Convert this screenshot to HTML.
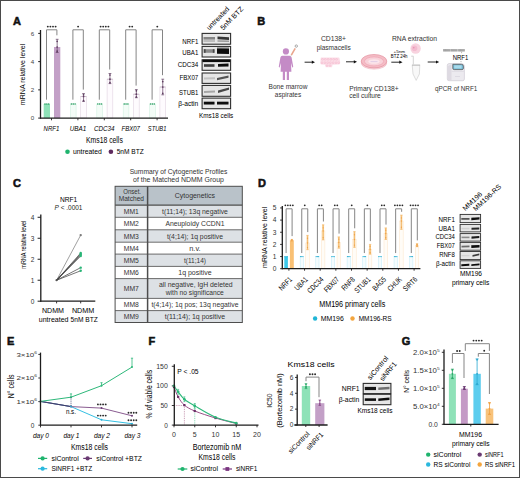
<!DOCTYPE html>
<html><head><meta charset="utf-8"><style>
html,body{margin:0;padding:0;background:#fff;width:520px;height:478px;overflow:hidden}
svg{display:block}
text{font-family:"Liberation Sans",sans-serif}
</style></head><body>
<svg width="520" height="478" viewBox="0 0 520 478">
<rect x="0.50" y="0.50" width="519.00" height="477.00" fill="none" stroke="#4a4a4a" stroke-width="1" />
<text x="13.00" y="25.00" font-size="11" fill="#111" font-weight="bold" stroke="#111" stroke-width="0.55">A</text>
<line x1="40.50" y1="30.00" x2="40.50" y2="118.60" stroke="#1c1c1c" stroke-width="1.3" />
<line x1="38.20" y1="118.10" x2="40.50" y2="118.10" stroke="#231f20" stroke-width="1" />
<text x="34.30" y="120.30" font-size="6.2" text-anchor="end" fill="#444" >0</text>
<line x1="38.20" y1="89.86" x2="40.50" y2="89.86" stroke="#231f20" stroke-width="1" />
<text x="34.30" y="92.06" font-size="6.2" text-anchor="end" fill="#444" >2</text>
<line x1="38.20" y1="61.62" x2="40.50" y2="61.62" stroke="#231f20" stroke-width="1" />
<text x="34.30" y="63.82" font-size="6.2" text-anchor="end" fill="#444" >4</text>
<line x1="38.20" y1="33.38" x2="40.50" y2="33.38" stroke="#231f20" stroke-width="1" />
<text x="34.30" y="35.58" font-size="6.2" text-anchor="end" fill="#444" >6</text>
<text x="25.40" y="74.40" font-size="7.1" text-anchor="middle" textLength="61.50" lengthAdjust="spacingAndGlyphs" transform="rotate(-90 25.40 74.40)" >mRNA relative level</text>
<rect x="43.70" y="103.98" width="6.30" height="14.12" fill="#8fe2b8" stroke="none" stroke-width="1" />
<rect x="54.00" y="47.00" width="6.30" height="71.10" fill="#c3a0c7" stroke="none" stroke-width="1" />
<circle cx="45.00" cy="103.98" r="0.8" fill="#2a9d62" />
<circle cx="46.85" cy="103.98" r="0.8" fill="#2a9d62" />
<circle cx="48.70" cy="103.98" r="0.8" fill="#2a9d62" />
<line x1="57.15" y1="39.30" x2="57.15" y2="52.50" stroke="#5e3d60" stroke-width="0.7" />
<line x1="55.75" y1="39.30" x2="58.55" y2="39.30" stroke="#5e3d60" stroke-width="0.7" />
<line x1="55.75" y1="52.50" x2="58.55" y2="52.50" stroke="#5e3d60" stroke-width="0.7" />
<circle cx="57.15" cy="41.28" r="0.85" fill="#5e3d60" />
<circle cx="57.15" cy="47.00" r="0.85" fill="#5e3d60" />
<circle cx="57.15" cy="51.18" r="0.85" fill="#5e3d60" />
<path d="M46.50 99.68 V29.8 H56.90 V35.30" fill="none" stroke="#858585" stroke-width="1.0" />
<circle cx="47.80" cy="26.60" r="0.95" fill="#2a2a2a" />
<circle cx="50.40" cy="26.60" r="0.95" fill="#2a2a2a" />
<circle cx="53.00" cy="26.60" r="0.95" fill="#2a2a2a" />
<circle cx="55.60" cy="26.60" r="0.95" fill="#2a2a2a" />
<line x1="51.50" y1="118.10" x2="51.50" y2="120.30" stroke="#231f20" stroke-width="0.9" />
<text x="51.50" y="130.90" font-size="7.6" text-anchor="middle" font-style="italic" textLength="15.80" lengthAdjust="spacingAndGlyphs" >NRF1</text>
<rect x="70.40" y="103.98" width="5.70" height="14.12" fill="#f3fcf7" stroke="#d2f1e1" stroke-width="0.6" />
<rect x="80.70" y="96.50" width="5.70" height="21.60" fill="#fefbfe" stroke="#e2d4e2" stroke-width="0.6" />
<line x1="80.70" y1="96.50" x2="86.40" y2="96.50" stroke="#b9a6b9" stroke-width="0.6" />
<circle cx="71.40" cy="103.98" r="0.8" fill="#2a9d62" />
<circle cx="73.25" cy="103.98" r="0.8" fill="#2a9d62" />
<circle cx="75.10" cy="103.98" r="0.8" fill="#2a9d62" />
<line x1="83.55" y1="93.60" x2="83.55" y2="101.40" stroke="#5e3d60" stroke-width="0.7" />
<line x1="82.15" y1="93.60" x2="84.95" y2="93.60" stroke="#5e3d60" stroke-width="0.7" />
<line x1="82.15" y1="101.40" x2="84.95" y2="101.40" stroke="#5e3d60" stroke-width="0.7" />
<circle cx="83.55" cy="94.77" r="0.85" fill="#5e3d60" />
<circle cx="83.55" cy="96.50" r="0.85" fill="#5e3d60" />
<circle cx="83.55" cy="100.62" r="0.85" fill="#5e3d60" />
<path d="M72.90 99.68 V29.8 H83.30 V89.60" fill="none" stroke="#858585" stroke-width="1.0" />
<circle cx="78.10" cy="26.60" r="0.95" fill="#2a2a2a" />
<line x1="77.90" y1="118.10" x2="77.90" y2="120.30" stroke="#231f20" stroke-width="0.9" />
<text x="77.90" y="130.90" font-size="7.6" text-anchor="middle" font-style="italic" textLength="16.50" lengthAdjust="spacingAndGlyphs" >UBA1</text>
<rect x="96.80" y="103.98" width="5.70" height="14.12" fill="#f3fcf7" stroke="#d2f1e1" stroke-width="0.6" />
<rect x="107.10" y="79.20" width="5.70" height="38.90" fill="#fefbfe" stroke="#e2d4e2" stroke-width="0.6" />
<line x1="107.10" y1="79.20" x2="112.80" y2="79.20" stroke="#b9a6b9" stroke-width="0.6" />
<circle cx="97.80" cy="103.98" r="0.8" fill="#2a9d62" />
<circle cx="99.65" cy="103.98" r="0.8" fill="#2a9d62" />
<circle cx="101.50" cy="103.98" r="0.8" fill="#2a9d62" />
<line x1="109.95" y1="73.50" x2="109.95" y2="83.60" stroke="#5e3d60" stroke-width="0.7" />
<line x1="108.55" y1="73.50" x2="111.35" y2="73.50" stroke="#5e3d60" stroke-width="0.7" />
<line x1="108.55" y1="83.60" x2="111.35" y2="83.60" stroke="#5e3d60" stroke-width="0.7" />
<circle cx="109.95" cy="75.02" r="0.85" fill="#5e3d60" />
<circle cx="109.95" cy="79.20" r="0.85" fill="#5e3d60" />
<circle cx="109.95" cy="82.59" r="0.85" fill="#5e3d60" />
<path d="M99.30 99.68 V29.8 H109.70 V69.50" fill="none" stroke="#858585" stroke-width="1.0" />
<circle cx="100.60" cy="26.60" r="0.95" fill="#2a2a2a" />
<circle cx="103.20" cy="26.60" r="0.95" fill="#2a2a2a" />
<circle cx="105.80" cy="26.60" r="0.95" fill="#2a2a2a" />
<circle cx="108.40" cy="26.60" r="0.95" fill="#2a2a2a" />
<line x1="104.30" y1="118.10" x2="104.30" y2="120.30" stroke="#231f20" stroke-width="0.9" />
<text x="104.30" y="130.90" font-size="7.6" text-anchor="middle" font-style="italic" textLength="20.50" lengthAdjust="spacingAndGlyphs" >CDC34</text>
<rect x="123.20" y="103.98" width="5.70" height="14.12" fill="#f3fcf7" stroke="#d2f1e1" stroke-width="0.6" />
<rect x="133.50" y="94.20" width="5.70" height="23.90" fill="#fefbfe" stroke="#e2d4e2" stroke-width="0.6" />
<line x1="133.50" y1="94.20" x2="139.20" y2="94.20" stroke="#b9a6b9" stroke-width="0.6" />
<circle cx="124.20" cy="103.98" r="0.8" fill="#2a9d62" />
<circle cx="126.05" cy="103.98" r="0.8" fill="#2a9d62" />
<circle cx="127.90" cy="103.98" r="0.8" fill="#2a9d62" />
<line x1="136.35" y1="89.60" x2="136.35" y2="97.70" stroke="#5e3d60" stroke-width="0.7" />
<line x1="134.95" y1="89.60" x2="137.75" y2="89.60" stroke="#5e3d60" stroke-width="0.7" />
<line x1="134.95" y1="97.70" x2="137.75" y2="97.70" stroke="#5e3d60" stroke-width="0.7" />
<circle cx="136.35" cy="90.81" r="0.85" fill="#5e3d60" />
<circle cx="136.35" cy="94.20" r="0.85" fill="#5e3d60" />
<circle cx="136.35" cy="96.89" r="0.85" fill="#5e3d60" />
<path d="M125.70 99.68 V29.8 H136.10 V85.60" fill="none" stroke="#858585" stroke-width="1.0" />
<circle cx="129.60" cy="26.60" r="0.95" fill="#2a2a2a" />
<circle cx="132.20" cy="26.60" r="0.95" fill="#2a2a2a" />
<line x1="130.70" y1="118.10" x2="130.70" y2="120.30" stroke="#231f20" stroke-width="0.9" />
<text x="130.70" y="130.90" font-size="7.6" text-anchor="middle" font-style="italic" textLength="18.50" lengthAdjust="spacingAndGlyphs" >FBX07</text>
<rect x="149.60" y="103.98" width="5.70" height="14.12" fill="#f3fcf7" stroke="#d2f1e1" stroke-width="0.6" />
<rect x="159.90" y="87.00" width="5.70" height="31.10" fill="#fefbfe" stroke="#e2d4e2" stroke-width="0.6" />
<line x1="159.90" y1="87.00" x2="165.60" y2="87.00" stroke="#b9a6b9" stroke-width="0.6" />
<circle cx="150.60" cy="103.98" r="0.8" fill="#2a9d62" />
<circle cx="152.45" cy="103.98" r="0.8" fill="#2a9d62" />
<circle cx="154.30" cy="103.98" r="0.8" fill="#2a9d62" />
<line x1="162.75" y1="79.20" x2="162.75" y2="94.80" stroke="#5e3d60" stroke-width="0.7" />
<line x1="161.35" y1="79.20" x2="164.15" y2="79.20" stroke="#5e3d60" stroke-width="0.7" />
<line x1="161.35" y1="94.80" x2="164.15" y2="94.80" stroke="#5e3d60" stroke-width="0.7" />
<circle cx="162.75" cy="81.54" r="0.85" fill="#5e3d60" />
<circle cx="162.75" cy="87.00" r="0.85" fill="#5e3d60" />
<circle cx="162.75" cy="93.24" r="0.85" fill="#5e3d60" />
<path d="M152.10 99.68 V29.8 H162.50 V75.20" fill="none" stroke="#858585" stroke-width="1.0" />
<circle cx="157.30" cy="26.60" r="0.95" fill="#2a2a2a" />
<line x1="157.10" y1="118.10" x2="157.10" y2="120.30" stroke="#231f20" stroke-width="0.9" />
<text x="157.10" y="130.90" font-size="7.6" text-anchor="middle" font-style="italic" textLength="18.50" lengthAdjust="spacingAndGlyphs" >STUB1</text>
<line x1="40.00" y1="118.10" x2="168.00" y2="118.10" stroke="#1c1c1c" stroke-width="1.3" />
<text x="86.00" y="142.90" font-size="8.2" textLength="36.80" lengthAdjust="spacingAndGlyphs" >Kms18 cells</text>
<circle cx="67.50" cy="151.70" r="2.3" fill="#1fb46e" />
<text x="72.90" y="154.10" font-size="7" textLength="28.90" lengthAdjust="spacingAndGlyphs" >untreated</text>
<circle cx="110.90" cy="151.70" r="2.3" fill="#5e2a5e" />
<text x="116.70" y="154.10" font-size="7" textLength="27.10" lengthAdjust="spacingAndGlyphs" >5nM BTZ</text>
<defs><filter id="b3" x="-50%" y="-50%" width="200%" height="200%"><feGaussianBlur stdDeviation="0.3"/></filter><filter id="b4" x="-50%" y="-50%" width="200%" height="200%"><feGaussianBlur stdDeviation="0.4"/></filter><filter id="b5" x="-50%" y="-50%" width="200%" height="200%"><feGaussianBlur stdDeviation="0.5"/></filter><filter id="b6" x="-50%" y="-50%" width="200%" height="200%"><feGaussianBlur stdDeviation="0.6"/></filter><filter id="b8" x="-50%" y="-50%" width="200%" height="200%"><feGaussianBlur stdDeviation="0.8"/></filter><filter id="b10" x="-50%" y="-50%" width="200%" height="200%"><feGaussianBlur stdDeviation="1.0"/></filter><filter id="b15" x="-50%" y="-50%" width="200%" height="200%"><feGaussianBlur stdDeviation="1.5"/></filter></defs>
<rect x="202.10" y="33.40" width="28.50" height="10.80" fill="#e6e6e6" stroke="#2e2e2e" stroke-width="1.1" />
<path d="M203.50 37.00 L215.00 37.00 L215.00 39.60 L203.50 39.60 Z" fill="#858585" stroke="none" stroke-width="1" filter="url(#b6)"/>
<path d="M203.50 40.20 L215.00 40.20 L215.00 41.80 L203.50 41.80 Z" fill="#b3b3b3" stroke="none" stroke-width="1" filter="url(#b6)"/>
<path d="M217.50 36.50 L229.00 37.20 L229.00 40.00 L217.50 39.30 Z" fill="#363636" stroke="none" stroke-width="1" filter="url(#b6)"/>
<path d="M217.50 40.20 L229.00 40.40 L229.00 42.00 L217.50 41.80 Z" fill="#9a9a9a" stroke="none" stroke-width="1" filter="url(#b6)"/>
<rect x="202.10" y="46.40" width="28.50" height="10.60" fill="#e6e6e6" stroke="#2e2e2e" stroke-width="1.1" />
<path d="M203.80 49.20 L214.50 49.20 L214.50 52.80 L203.80 52.80 Z" fill="#8c8c8c" stroke="none" stroke-width="1" filter="url(#b6)"/>
<path d="M203.80 49.20 L205.60 49.20 L205.60 52.80 L203.80 52.80 Z" fill="#4a4a4a" stroke="none" stroke-width="1" filter="url(#b5)"/>
<path d="M212.80 49.20 L214.50 49.20 L214.50 52.80 L212.80 52.80 Z" fill="#4a4a4a" stroke="none" stroke-width="1" filter="url(#b5)"/>
<path d="M217.00 48.30 L229.00 48.50 L229.00 53.90 L217.00 53.70 Z" fill="#0a0a0a" stroke="none" stroke-width="1" filter="url(#b6)"/>
<path d="M217.00 47.50 L229.00 47.50 L229.00 48.50 L217.00 48.50 Z" fill="#666" stroke="none" stroke-width="1" filter="url(#b4)"/>
<rect x="202.10" y="59.80" width="28.50" height="10.50" fill="#e6e6e6" stroke="#2e2e2e" stroke-width="1.1" />
<path d="M202.50 59.70 L230.20 59.70 L230.20 62.10 L202.50 62.10 Z" fill="#0a0a0a" stroke="none" stroke-width="1" filter="url(#b3)"/>
<path d="M204.00 64.20 L214.50 64.20 L214.50 66.80 L204.00 66.80 Z" fill="#3d3d3d" stroke="none" stroke-width="1" filter="url(#b6)"/>
<path d="M218.00 63.90 L228.50 63.60 L228.50 66.40 L218.00 66.70 Z" fill="#0d0d0d" stroke="none" stroke-width="1" filter="url(#b6)"/>
<rect x="202.10" y="73.00" width="28.50" height="10.40" fill="#e6e6e6" stroke="#2e2e2e" stroke-width="1.1" />
<path d="M204.00 77.60 L215.00 77.30 L215.00 79.30 L204.00 79.60 Z" fill="#c2c2c2" stroke="none" stroke-width="1" filter="url(#b6)"/>
<path d="M217.00 78.10 L228.50 75.50 L228.50 77.70 L217.00 80.30 Z" fill="#555" stroke="none" stroke-width="1" filter="url(#b6)"/>
<rect x="202.10" y="85.40" width="28.50" height="10.90" fill="#e6e6e6" stroke="#2e2e2e" stroke-width="1.1" />
<path d="M204.00 91.00 L215.00 90.50 L215.00 92.50 L204.00 93.00 Z" fill="#a6a6a6" stroke="none" stroke-width="1" filter="url(#b6)"/>
<path d="M218.00 90.60 L229.00 87.40 L229.00 89.80 L218.00 93.00 Z" fill="#474747" stroke="none" stroke-width="1" filter="url(#b6)"/>
<rect x="202.10" y="98.10" width="28.50" height="10.60" fill="#e6e6e6" stroke="#2e2e2e" stroke-width="1.1" />
<path d="M203.80 101.70 L214.50 101.70 L214.50 104.50 L203.80 104.50 Z" fill="#0a0a0a" stroke="none" stroke-width="1" filter="url(#b6)"/>
<path d="M217.00 101.70 L228.50 101.70 L228.50 104.50 L217.00 104.50 Z" fill="#0a0a0a" stroke="none" stroke-width="1" filter="url(#b6)"/>
<text x="198.30" y="43.90" font-size="7" text-anchor="end" textLength="16.00" lengthAdjust="spacingAndGlyphs" >NRF1</text>
<text x="198.30" y="54.80" font-size="7" text-anchor="end" textLength="16.00" lengthAdjust="spacingAndGlyphs" >UBA1</text>
<text x="198.30" y="67.30" font-size="7" text-anchor="end" textLength="20.50" lengthAdjust="spacingAndGlyphs" >CDC34</text>
<text x="198.30" y="79.80" font-size="7" text-anchor="end" textLength="18.90" lengthAdjust="spacingAndGlyphs" >FBX07</text>
<text x="198.30" y="94.60" font-size="7" text-anchor="end" textLength="19.20" lengthAdjust="spacingAndGlyphs" >STUB1</text>
<text x="198.30" y="106.40" font-size="7" text-anchor="end" textLength="20.10" lengthAdjust="spacingAndGlyphs" >β-actin</text>
<text x="209.30" y="30.60" font-size="7" textLength="29.50" lengthAdjust="spacingAndGlyphs" transform="rotate(-46 209.30 30.60)" >untreated</text>
<text x="223.30" y="30.60" font-size="7" textLength="29.50" lengthAdjust="spacingAndGlyphs" transform="rotate(-46 223.30 30.60)" >5nM BTZ</text>
<text x="199.00" y="117.80" font-size="6.5" textLength="34.30" lengthAdjust="spacingAndGlyphs" >Kms18 cells</text>
<text x="257.20" y="24.70" font-size="11" fill="#111" font-weight="bold" stroke="#111" stroke-width="0.55">B</text>
<circle cx="285.90" cy="51.40" r="3.1" fill="#c48bc6" />
<path d="M282.3 55.8 L289.6 55.8 Q291.2 55.9 291.6 57.6 L293.2 66.6 Q293.2 67.6 292.3 67.4 L291 63 L291.4 71.8 L280.6 71.8 L281 63 L279.6 67.4 Q278.7 67.6 278.8 66.6 L280.4 57.6 Q280.8 55.9 282.3 55.8 Z" fill="#c48bc6" stroke="none" stroke-width="1" />
<rect x="282.80" y="71.00" width="2.20" height="9.00" fill="#c48bc6" stroke="none" stroke-width="1" />
<rect x="286.80" y="71.00" width="2.20" height="9.00" fill="#c48bc6" stroke="none" stroke-width="1" />
<line x1="291.30" y1="55.20" x2="295.20" y2="48.40" stroke="#e9a58c" stroke-width="1.6" />
<line x1="290.20" y1="57.00" x2="291.30" y2="55.20" stroke="#bbb" stroke-width="0.6" />
<circle cx="296.30" cy="46.10" r="1.2" fill="none" stroke="#888" stroke-width="0.7"/>
<line x1="304.60" y1="62.20" x2="312.50" y2="62.20" stroke="#111" stroke-width="0.9" />
<path d="M315 62.2 L311.8 60.6 L311.8 63.800000000000004 Z" fill="#111" stroke="none" stroke-width="1" />
<line x1="346.00" y1="61.80" x2="354.50" y2="61.80" stroke="#111" stroke-width="0.9" />
<path d="M357 61.8 L353.8 60.199999999999996 L353.8 63.4 Z" fill="#111" stroke="none" stroke-width="1" />
<line x1="391.30" y1="62.20" x2="400.00" y2="62.20" stroke="#111" stroke-width="0.9" />
<path d="M402.5 62.2 L399.3 60.6 L399.3 63.800000000000004 Z" fill="#111" stroke="none" stroke-width="1" />
<line x1="427.70" y1="62.00" x2="436.70" y2="62.00" stroke="#111" stroke-width="0.9" />
<path d="M439.2 62 L436.0 60.4 L436.0 63.6 Z" fill="#111" stroke="none" stroke-width="1" />
<text x="288.00" y="88.90" font-size="7" text-anchor="middle" fill="#333" textLength="38.90" lengthAdjust="spacingAndGlyphs" >Bone marrow</text>
<text x="288.00" y="96.60" font-size="7" text-anchor="middle" fill="#333" textLength="26.30" lengthAdjust="spacingAndGlyphs" >aspirates</text>
<text x="333.50" y="41.30" font-size="7" text-anchor="middle" fill="#333" textLength="25.10" lengthAdjust="spacingAndGlyphs" >CD138+</text>
<text x="333.70" y="49.60" font-size="7" text-anchor="middle" fill="#333" textLength="34.00" lengthAdjust="spacingAndGlyphs" >plasmacells</text>
<path d="M321 57.6 L338.6 57.6 Q339.6 57.6 339.6 59 L340.2 62 Q340.4 64.6 338.2 64.6 L332.6 64.8 L332 67.2 L325.6 67.2 L325.2 64.8 L321.4 64.6 Q320 64.4 320.3 62.4 L320.6 58.8 Q320.8 57.6 321 57.6 Z" fill="#fbdde7" stroke="none" stroke-width="1" />
<circle cx="322.50" cy="59.30" r="1.2" fill="#f7c4d5" />
<circle cx="322.50" cy="59.30" r="0.45" fill="#fce6ee" />
<circle cx="325.30" cy="59.30" r="1.2" fill="#f7c4d5" />
<circle cx="325.30" cy="59.30" r="0.45" fill="#fce6ee" />
<circle cx="328.10" cy="59.30" r="1.2" fill="#f7c4d5" />
<circle cx="328.10" cy="59.30" r="0.45" fill="#fce6ee" />
<circle cx="330.90" cy="59.30" r="1.2" fill="#f7c4d5" />
<circle cx="330.90" cy="59.30" r="0.45" fill="#fce6ee" />
<circle cx="333.70" cy="59.30" r="1.2" fill="#f7c4d5" />
<circle cx="333.70" cy="59.30" r="0.45" fill="#fce6ee" />
<circle cx="336.50" cy="59.30" r="1.2" fill="#f7c4d5" />
<circle cx="336.50" cy="59.30" r="0.45" fill="#fce6ee" />
<circle cx="322.00" cy="62.80" r="1.2" fill="#f7c4d5" />
<circle cx="322.00" cy="62.80" r="0.45" fill="#fce6ee" />
<circle cx="324.80" cy="62.80" r="1.2" fill="#f7c4d5" />
<circle cx="324.80" cy="62.80" r="0.45" fill="#fce6ee" />
<circle cx="327.60" cy="62.80" r="1.2" fill="#f7c4d5" />
<circle cx="327.60" cy="62.80" r="0.45" fill="#fce6ee" />
<circle cx="330.40" cy="62.80" r="1.2" fill="#f7c4d5" />
<circle cx="330.40" cy="62.80" r="0.45" fill="#fce6ee" />
<circle cx="333.20" cy="62.80" r="1.2" fill="#f7c4d5" />
<circle cx="333.20" cy="62.80" r="0.45" fill="#fce6ee" />
<circle cx="336.00" cy="62.80" r="1.2" fill="#f7c4d5" />
<circle cx="336.00" cy="62.80" r="0.45" fill="#fce6ee" />
<circle cx="338.60" cy="62.80" r="1.2" fill="#f7c4d5" />
<circle cx="338.60" cy="62.80" r="0.45" fill="#fce6ee" />
<circle cx="327.00" cy="65.60" r="1.2" fill="#f7c4d5" />
<circle cx="327.00" cy="65.60" r="0.45" fill="#fce6ee" />
<circle cx="330.00" cy="65.60" r="1.2" fill="#f7c4d5" />
<circle cx="330.00" cy="65.60" r="0.45" fill="#fce6ee" />
<ellipse cx="374" cy="63.0" rx="12.8" ry="6.2" fill="#f8d6dc" stroke="#ecb3bd" stroke-width="0.5"/>
<ellipse cx="374" cy="61.2" rx="12.8" ry="6.7" fill="#f4bdc6" stroke="#e4909f" stroke-width="0.7"/>
<ellipse cx="374" cy="61.4" rx="9.6" ry="4.5" fill="#f8d2d9" stroke="#ee9fb0" stroke-width="0.6"/>
<ellipse cx="374" cy="61.5" rx="5.6" ry="2.3" fill="#fbe6ec"/>
<line x1="370.50" y1="61.60" x2="377.50" y2="61.60" stroke="#c9b4e0" stroke-width="0.5" />
<text x="349.20" y="90.60" font-size="7" fill="#333" textLength="49.50" lengthAdjust="spacingAndGlyphs" >Primary CD138+</text>
<text x="349.20" y="97.90" font-size="7" fill="#333" textLength="31.60" lengthAdjust="spacingAndGlyphs" >cell culture</text>
<text x="391.90" y="41.30" font-size="7" fill="#333" textLength="45.20" lengthAdjust="spacingAndGlyphs" >RNA extraction</text>
<text x="399.20" y="52.50" font-size="4.3" text-anchor="middle" textLength="11.40" lengthAdjust="spacingAndGlyphs" >+5nm</text>
<text x="399.20" y="57.60" font-size="4.6" text-anchor="middle" textLength="16.70" lengthAdjust="spacingAndGlyphs" >BTZ 24h</text>
<circle cx="415.60" cy="48.50" r="5.2" fill="#f8d3df" />
<circle cx="414.50" cy="48.20" r="2.8" fill="#f3bcd0" />
<circle cx="413.80" cy="47.80" r="0.8" fill="#e58fb0" />
<path d="M412.2 64.8 L419.8 64.8 L419.4 74 L416.2 80.4 L413 74 Z" fill="#f8f8f8" stroke="#c8c8c8" stroke-width="0.6" />
<line x1="412.00" y1="65.30" x2="420.00" y2="65.30" stroke="#bbb" stroke-width="0.8" />
<path d="M411.2 56.2 L413.3 56.2 L413.3 64.5" fill="none" stroke="#c8c8c8" stroke-width="0.8" />
<line x1="443.60" y1="49.00" x2="443.60" y2="51.60" stroke="#6a6a6a" stroke-width="0.55" />
<line x1="444.55" y1="49.00" x2="444.55" y2="51.60" stroke="#6a6a6a" stroke-width="0.55" />
<line x1="445.50" y1="49.00" x2="445.50" y2="51.60" stroke="#6a6a6a" stroke-width="0.55" />
<line x1="446.45" y1="49.00" x2="446.45" y2="51.60" stroke="#6a6a6a" stroke-width="0.55" />
<line x1="447.40" y1="49.00" x2="447.40" y2="51.60" stroke="#6a6a6a" stroke-width="0.55" />
<line x1="448.35" y1="49.00" x2="448.35" y2="51.60" stroke="#6a6a6a" stroke-width="0.55" />
<line x1="449.30" y1="49.00" x2="449.30" y2="51.60" stroke="#6a6a6a" stroke-width="0.55" />
<line x1="450.25" y1="49.00" x2="450.25" y2="51.60" stroke="#6a6a6a" stroke-width="0.55" />
<line x1="443.30" y1="50.30" x2="450.20" y2="50.30" stroke="#999" stroke-width="0.5" />
<line x1="451.50" y1="49.00" x2="451.50" y2="51.60" stroke="#6a6a6a" stroke-width="0.55" />
<line x1="452.45" y1="49.00" x2="452.45" y2="51.60" stroke="#6a6a6a" stroke-width="0.55" />
<line x1="453.40" y1="49.00" x2="453.40" y2="51.60" stroke="#6a6a6a" stroke-width="0.55" />
<line x1="454.35" y1="49.00" x2="454.35" y2="51.60" stroke="#6a6a6a" stroke-width="0.55" />
<line x1="455.30" y1="49.00" x2="455.30" y2="51.60" stroke="#6a6a6a" stroke-width="0.55" />
<line x1="456.25" y1="49.00" x2="456.25" y2="51.60" stroke="#6a6a6a" stroke-width="0.55" />
<line x1="457.20" y1="49.00" x2="457.20" y2="51.60" stroke="#6a6a6a" stroke-width="0.55" />
<line x1="451.20" y1="50.30" x2="457.30" y2="50.30" stroke="#999" stroke-width="0.5" />
<line x1="458.60" y1="49.00" x2="458.60" y2="51.60" stroke="#6a6a6a" stroke-width="0.55" />
<line x1="459.55" y1="49.00" x2="459.55" y2="51.60" stroke="#6a6a6a" stroke-width="0.55" />
<line x1="460.50" y1="49.00" x2="460.50" y2="51.60" stroke="#6a6a6a" stroke-width="0.55" />
<line x1="461.45" y1="49.00" x2="461.45" y2="51.60" stroke="#6a6a6a" stroke-width="0.55" />
<line x1="462.40" y1="49.00" x2="462.40" y2="51.60" stroke="#6a6a6a" stroke-width="0.55" />
<line x1="463.35" y1="49.00" x2="463.35" y2="51.60" stroke="#6a6a6a" stroke-width="0.55" />
<line x1="464.30" y1="49.00" x2="464.30" y2="51.60" stroke="#6a6a6a" stroke-width="0.55" />
<line x1="458.30" y1="50.30" x2="464.80" y2="50.30" stroke="#999" stroke-width="0.5" />
<line x1="461.60" y1="51.80" x2="461.60" y2="53.20" stroke="#777" stroke-width="0.5" />
<text x="452.80" y="60.10" font-size="6.6" textLength="15.50" lengthAdjust="spacingAndGlyphs" >NRF1</text>
<line x1="461.00" y1="61.00" x2="461.00" y2="62.20" stroke="#777" stroke-width="0.5" />
<path d="M449 63.6 Q447.3 63.6 447.3 65.4 L447.3 79.0 Q447.3 80.7 449 80.7 L462.8 80.7 Q464.4 80.7 464.4 79.0 L464.4 66.5 Q464.4 63.6 461.6 63.6 Z" fill="#eceaef" stroke="#c9c4cf" stroke-width="0.6" />
<path d="M447.8 66 L451.5 64.2 L451.5 80.3 L447.8 80.3 Z" fill="#dedae2" stroke="none" stroke-width="1" />
<path d="M452.8 64.3 L461.4 64.3 Q463.4 64.3 463.4 66.2 L463.4 68.2 Q463.4 69.6 462 69.6 L454.2 69.6 Q452.8 69.6 452.8 68.2 Z" fill="#79bcd6" stroke="#4a4a4a" stroke-width="0.7" />
<path d="M454.2 65.4 L461.6 65.4 L461.6 68.4 L454.2 68.4 Z" fill="#a9dbec" stroke="none" stroke-width="1" />
<line x1="451.80" y1="71.50" x2="464.00" y2="71.50" stroke="#d6d2da" stroke-width="0.5" />
<line x1="455.00" y1="76.50" x2="460.00" y2="76.50" stroke="#cfcbd4" stroke-width="0.5" />
<text x="435.00" y="91.20" font-size="7" fill="#333" textLength="42.30" lengthAdjust="spacingAndGlyphs" >qPCR of NRF1</text>
<text x="13.00" y="186.80" font-size="11" fill="#111" font-weight="bold" stroke="#111" stroke-width="0.55">C</text>
<text x="68.60" y="201.90" font-size="6.6" text-anchor="middle" textLength="17.30" lengthAdjust="spacingAndGlyphs" >NRF1</text>
<text x="68.5" y="210.1" font-size="6.6" text-anchor="middle" textLength="27.9" lengthAdjust="spacingAndGlyphs" fill="#231f20"><tspan font-style="italic">P</tspan> &lt; .0001</text>
<line x1="40.80" y1="214.40" x2="40.80" y2="301.80" stroke="#1c1c1c" stroke-width="1.3" />
<line x1="37.60" y1="301.20" x2="40.80" y2="301.20" stroke="#1c1c1c" stroke-width="1.0" />
<text x="34.30" y="303.50" font-size="6.5" text-anchor="end" fill="#333" >0</text>
<line x1="37.60" y1="280.22" x2="40.80" y2="280.22" stroke="#1c1c1c" stroke-width="1.0" />
<text x="34.30" y="282.52" font-size="6.5" text-anchor="end" fill="#333" >1</text>
<line x1="37.60" y1="259.24" x2="40.80" y2="259.24" stroke="#1c1c1c" stroke-width="1.0" />
<text x="34.30" y="261.54" font-size="6.5" text-anchor="end" fill="#333" >2</text>
<line x1="37.60" y1="238.26" x2="40.80" y2="238.26" stroke="#1c1c1c" stroke-width="1.0" />
<text x="34.30" y="240.56" font-size="6.5" text-anchor="end" fill="#333" >3</text>
<line x1="37.60" y1="217.28" x2="40.80" y2="217.28" stroke="#1c1c1c" stroke-width="1.0" />
<text x="34.30" y="219.58" font-size="6.5" text-anchor="end" fill="#333" >4</text>
<text x="25.90" y="244.70" font-size="7.3" text-anchor="middle" textLength="48.00" lengthAdjust="spacingAndGlyphs" transform="rotate(-90 25.90 244.70)" >mRNA relative level</text>
<line x1="40.20" y1="301.20" x2="95.30" y2="301.20" stroke="#1c1c1c" stroke-width="1.3" />
<line x1="56.60" y1="301.20" x2="56.60" y2="303.40" stroke="#231f20" stroke-width="0.9" />
<line x1="80.70" y1="301.20" x2="80.70" y2="303.40" stroke="#231f20" stroke-width="0.9" />
<line x1="56.60" y1="280.22" x2="80.70" y2="235.11" stroke="#777" stroke-width="0.7" />
<line x1="56.60" y1="280.22" x2="80.70" y2="252.95" stroke="#3a3a3a" stroke-width="0.7" />
<line x1="56.60" y1="280.22" x2="80.70" y2="254.00" stroke="#3a3a3a" stroke-width="0.7" />
<line x1="56.60" y1="280.22" x2="80.70" y2="255.04" stroke="#3a3a3a" stroke-width="0.7" />
<line x1="56.60" y1="280.22" x2="80.70" y2="256.09" stroke="#3a3a3a" stroke-width="0.7" />
<line x1="56.60" y1="280.22" x2="80.70" y2="267.63" stroke="#3a3a3a" stroke-width="0.7" />
<line x1="56.60" y1="280.22" x2="80.70" y2="270.78" stroke="#3a3a3a" stroke-width="0.7" />
<circle cx="80.70" cy="235.11" r="1.2" fill="#7a7a7a" />
<circle cx="80.70" cy="252.95" r="1.2" fill="#29b577" />
<circle cx="80.70" cy="254.00" r="1.2" fill="#29b577" />
<circle cx="80.70" cy="255.04" r="1.2" fill="#29b577" />
<circle cx="80.70" cy="256.09" r="1.2" fill="#29b577" />
<circle cx="80.70" cy="267.63" r="1.2" fill="#29b577" />
<circle cx="80.70" cy="270.78" r="1.2" fill="#29b577" />
<circle cx="56.60" cy="280.22" r="1.1" fill="#555" />
<text x="53.00" y="313.20" font-size="6.8" text-anchor="middle" textLength="22.00" lengthAdjust="spacingAndGlyphs" >NDMM</text>
<text x="53.65" y="321.60" font-size="6.8" text-anchor="middle" textLength="29.70" lengthAdjust="spacingAndGlyphs" >untreated</text>
<text x="83.10" y="313.20" font-size="6.8" text-anchor="middle" textLength="22.40" lengthAdjust="spacingAndGlyphs" >NDMM</text>
<text x="84.20" y="321.60" font-size="6.8" text-anchor="middle" textLength="27.20" lengthAdjust="spacingAndGlyphs" >5nM BTZ</text>
<text x="178.50" y="174.40" font-size="6.8" text-anchor="middle" fill="#333" textLength="97.70" lengthAdjust="spacingAndGlyphs" >Summary of Cytogenetic Profiles</text>
<text x="178.50" y="182.10" font-size="6.8" text-anchor="middle" fill="#333" textLength="90.80" lengthAdjust="spacingAndGlyphs" >of the Matched NDMM Group</text>
<rect x="115.10" y="186.30" width="127.20" height="18.90" fill="#b9c2c9" stroke="none" stroke-width="1" />
<rect x="115.10" y="205.20" width="127.20" height="12.10" fill="#dde1e5" stroke="none" stroke-width="1" />
<rect x="115.10" y="217.30" width="127.20" height="12.50" fill="#ffffff" stroke="none" stroke-width="1" />
<rect x="115.10" y="229.80" width="127.20" height="12.40" fill="#dde1e5" stroke="none" stroke-width="1" />
<rect x="115.10" y="242.20" width="127.20" height="11.90" fill="#ffffff" stroke="none" stroke-width="1" />
<rect x="115.10" y="254.10" width="127.20" height="12.30" fill="#dde1e5" stroke="none" stroke-width="1" />
<rect x="115.10" y="266.40" width="127.20" height="12.20" fill="#ffffff" stroke="none" stroke-width="1" />
<rect x="115.10" y="278.60" width="127.20" height="19.80" fill="#dde1e5" stroke="none" stroke-width="1" />
<rect x="115.10" y="298.40" width="127.20" height="12.20" fill="#ffffff" stroke="none" stroke-width="1" />
<rect x="115.10" y="310.60" width="127.20" height="11.90" fill="#dde1e5" stroke="none" stroke-width="1" />
<line x1="115.10" y1="205.20" x2="242.30" y2="205.20" stroke="#4d4d4d" stroke-width="1.3" />
<line x1="115.10" y1="217.30" x2="242.30" y2="217.30" stroke="#5a5a5a" stroke-width="0.9" />
<line x1="115.10" y1="229.80" x2="242.30" y2="229.80" stroke="#5a5a5a" stroke-width="0.9" />
<line x1="115.10" y1="242.20" x2="242.30" y2="242.20" stroke="#5a5a5a" stroke-width="0.9" />
<line x1="115.10" y1="254.10" x2="242.30" y2="254.10" stroke="#5a5a5a" stroke-width="0.9" />
<line x1="115.10" y1="266.40" x2="242.30" y2="266.40" stroke="#5a5a5a" stroke-width="0.9" />
<line x1="115.10" y1="278.60" x2="242.30" y2="278.60" stroke="#5a5a5a" stroke-width="0.9" />
<line x1="115.10" y1="298.40" x2="242.30" y2="298.40" stroke="#5a5a5a" stroke-width="0.9" />
<line x1="115.10" y1="310.60" x2="242.30" y2="310.60" stroke="#5a5a5a" stroke-width="0.9" />
<line x1="147.60" y1="186.30" x2="147.60" y2="322.50" stroke="#4d4d4d" stroke-width="1.5" />
<rect x="115.10" y="186.30" width="127.20" height="136.20" fill="none" stroke="#4d4d4d" stroke-width="1.0" />
<text x="132.15" y="193.80" font-size="6.4" text-anchor="middle" fill="#333" textLength="17.70" lengthAdjust="spacingAndGlyphs" >Onset.</text>
<text x="131.35" y="201.40" font-size="6.4" text-anchor="middle" fill="#333" textLength="25.40" lengthAdjust="spacingAndGlyphs" >Matched</text>
<text x="194.95" y="198.20" font-size="6.9" text-anchor="middle" fill="#333" textLength="40.20" lengthAdjust="spacingAndGlyphs" >Cytogenetics</text>
<text x="131.35" y="214.15" font-size="6.9" text-anchor="middle" fill="#333" textLength="15.00" lengthAdjust="spacingAndGlyphs" >MM1</text>
<text x="194.95" y="214.15" font-size="6.9" text-anchor="middle" fill="#333" textLength="65.80" lengthAdjust="spacingAndGlyphs" >t(11;14); 13q negative</text>
<text x="131.35" y="226.45" font-size="6.9" text-anchor="middle" fill="#333" textLength="15.00" lengthAdjust="spacingAndGlyphs" >MM2</text>
<text x="194.95" y="226.45" font-size="6.9" text-anchor="middle" fill="#333" textLength="59.00" lengthAdjust="spacingAndGlyphs" >Aneuploidy CCDN1</text>
<text x="131.35" y="238.90" font-size="6.9" text-anchor="middle" fill="#333" textLength="15.00" lengthAdjust="spacingAndGlyphs" >MM3</text>
<text x="194.95" y="238.90" font-size="6.9" text-anchor="middle" fill="#333" textLength="56.00" lengthAdjust="spacingAndGlyphs" >t(4;14); 1q positive</text>
<text x="131.35" y="251.05" font-size="6.9" text-anchor="middle" fill="#333" textLength="15.00" lengthAdjust="spacingAndGlyphs" >MM4</text>
<text x="194.95" y="251.05" font-size="6.9" text-anchor="middle" fill="#333" textLength="11.40" lengthAdjust="spacingAndGlyphs" >n.v.</text>
<text x="131.35" y="263.15" font-size="6.9" text-anchor="middle" fill="#333" textLength="15.00" lengthAdjust="spacingAndGlyphs" >MM5</text>
<text x="194.95" y="263.15" font-size="6.9" text-anchor="middle" fill="#333" textLength="22.00" lengthAdjust="spacingAndGlyphs" >t(11;14)</text>
<text x="131.35" y="275.40" font-size="6.9" text-anchor="middle" fill="#333" textLength="15.00" lengthAdjust="spacingAndGlyphs" >MM6</text>
<text x="194.95" y="275.40" font-size="6.9" text-anchor="middle" fill="#333" textLength="33.40" lengthAdjust="spacingAndGlyphs" >1q positive</text>
<text x="131.35" y="291.40" font-size="6.9" text-anchor="middle" fill="#333" textLength="15.00" lengthAdjust="spacingAndGlyphs" >MM7</text>
<text x="195.75" y="286.90" font-size="6.9" text-anchor="middle" fill="#333" textLength="73.60" lengthAdjust="spacingAndGlyphs" >all negative, IgH deleted</text>
<text x="194.75" y="294.50" font-size="6.9" text-anchor="middle" fill="#333" textLength="58.00" lengthAdjust="spacingAndGlyphs" >with no significance</text>
<text x="131.35" y="307.40" font-size="6.9" text-anchor="middle" fill="#333" textLength="15.00" lengthAdjust="spacingAndGlyphs" >MM8</text>
<text x="194.95" y="307.40" font-size="6.9" text-anchor="middle" fill="#333" textLength="87.00" lengthAdjust="spacingAndGlyphs" >t(4;14); 1q pos; 13q negative</text>
<text x="131.35" y="319.45" font-size="6.9" text-anchor="middle" fill="#333" textLength="15.00" lengthAdjust="spacingAndGlyphs" >MM9</text>
<text x="194.95" y="319.45" font-size="6.9" text-anchor="middle" fill="#333" textLength="60.40" lengthAdjust="spacingAndGlyphs" >t(11;14); 1q positive</text>
<text x="258.00" y="187.20" font-size="11" fill="#111" font-weight="bold" stroke="#111" stroke-width="0.55">D</text>
<line x1="282.30" y1="206.00" x2="282.30" y2="269.20" stroke="#1c1c1c" stroke-width="1.3" />
<line x1="280.10" y1="268.70" x2="282.30" y2="268.70" stroke="#231f20" stroke-width="0.9" />
<text x="276.40" y="271.00" font-size="6.6" text-anchor="end" fill="#333" >0</text>
<line x1="280.10" y1="256.55" x2="282.30" y2="256.55" stroke="#231f20" stroke-width="0.9" />
<text x="276.40" y="258.85" font-size="6.6" text-anchor="end" fill="#333" >1</text>
<line x1="280.10" y1="244.40" x2="282.30" y2="244.40" stroke="#231f20" stroke-width="0.9" />
<text x="276.40" y="246.70" font-size="6.6" text-anchor="end" fill="#333" >2</text>
<line x1="280.10" y1="232.25" x2="282.30" y2="232.25" stroke="#231f20" stroke-width="0.9" />
<text x="276.40" y="234.55" font-size="6.6" text-anchor="end" fill="#333" >3</text>
<line x1="280.10" y1="220.10" x2="282.30" y2="220.10" stroke="#231f20" stroke-width="0.9" />
<text x="276.40" y="222.40" font-size="6.6" text-anchor="end" fill="#333" >4</text>
<line x1="280.10" y1="207.95" x2="282.30" y2="207.95" stroke="#231f20" stroke-width="0.9" />
<text x="276.40" y="210.25" font-size="6.6" text-anchor="end" fill="#333" >5</text>
<text x="267.20" y="237.30" font-size="7.6" text-anchor="middle" textLength="61.20" lengthAdjust="spacingAndGlyphs" transform="rotate(-90 267.20 237.30)" >mRNA relative level</text>
<rect x="284.30" y="256.55" width="3.60" height="12.15" fill="#3cc8ea" stroke="none" stroke-width="1" />
<rect x="289.90" y="240.20" width="3.90" height="28.50" fill="#f9c074" stroke="none" stroke-width="1" />
<circle cx="284.90" cy="256.55" r="0.6" fill="#2aaed2" />
<circle cx="286.10" cy="256.55" r="0.6" fill="#2aaed2" />
<circle cx="287.30" cy="256.55" r="0.6" fill="#2aaed2" />
<line x1="291.85" y1="239.40" x2="291.85" y2="241.00" stroke="#f7cf92" stroke-width="1.8" />
<line x1="291.85" y1="239.40" x2="291.85" y2="241.00" stroke="#f2b25e" stroke-width="0.6" />
<line x1="290.65" y1="239.40" x2="293.05" y2="239.40" stroke="#f2b25e" stroke-width="0.6" />
<line x1="290.65" y1="241.00" x2="293.05" y2="241.00" stroke="#f2b25e" stroke-width="0.6" />
<circle cx="291.85" cy="239.72" r="0.65" fill="#eea04a" />
<circle cx="291.85" cy="240.20" r="0.65" fill="#eea04a" />
<circle cx="291.85" cy="240.76" r="0.65" fill="#eea04a" />
<path d="M286.10 253.05 V208.8 H292.10 V236.10" fill="none" stroke="#858585" stroke-width="1.0" />
<circle cx="285.35" cy="205.30" r="0.9" fill="#2a2a2a" />
<circle cx="287.85" cy="205.30" r="0.9" fill="#2a2a2a" />
<circle cx="290.35" cy="205.30" r="0.9" fill="#2a2a2a" />
<circle cx="292.85" cy="205.30" r="0.9" fill="#2a2a2a" />
<line x1="288.90" y1="268.70" x2="288.90" y2="270.70" stroke="#231f20" stroke-width="0.9" />
<text x="292.70" y="280.00" font-size="7.6" text-anchor="end" textLength="15.39" lengthAdjust="spacingAndGlyphs" transform="rotate(-45 292.70 280.00)" >NRF1</text>
<rect x="300.15" y="256.55" width="3.20" height="12.15" fill="#f4fcfe" stroke="#bfeaf6" stroke-width="0.5" />
<rect x="305.75" y="242.90" width="3.50" height="25.80" fill="#fffcf7" stroke="#fde4c6" stroke-width="0.5" />
<circle cx="300.55" cy="256.55" r="0.6" fill="#2aaed2" />
<circle cx="301.75" cy="256.55" r="0.6" fill="#2aaed2" />
<circle cx="302.95" cy="256.55" r="0.6" fill="#2aaed2" />
<line x1="307.50" y1="235.40" x2="307.50" y2="249.70" stroke="#f7cf92" stroke-width="1.8" />
<line x1="307.50" y1="235.40" x2="307.50" y2="249.70" stroke="#f2b25e" stroke-width="0.6" />
<line x1="306.30" y1="235.40" x2="308.70" y2="235.40" stroke="#f2b25e" stroke-width="0.6" />
<line x1="306.30" y1="249.70" x2="308.70" y2="249.70" stroke="#f2b25e" stroke-width="0.6" />
<circle cx="307.50" cy="238.26" r="0.65" fill="#eea04a" />
<circle cx="307.50" cy="242.90" r="0.65" fill="#eea04a" />
<circle cx="307.50" cy="247.55" r="0.65" fill="#eea04a" />
<path d="M301.75 253.05 V208.8 H307.75 V232.10" fill="none" stroke="#858585" stroke-width="1.0" />
<circle cx="304.75" cy="205.30" r="0.9" fill="#2a2a2a" />
<line x1="304.55" y1="268.70" x2="304.55" y2="270.70" stroke="#231f20" stroke-width="0.9" />
<text x="308.35" y="280.00" font-size="7.6" text-anchor="end" textLength="15.39" lengthAdjust="spacingAndGlyphs" transform="rotate(-45 308.35 280.00)" >UBA1</text>
<rect x="315.80" y="256.55" width="3.20" height="12.15" fill="#f4fcfe" stroke="#bfeaf6" stroke-width="0.5" />
<rect x="321.40" y="230.90" width="3.50" height="37.80" fill="#fffcf7" stroke="#fde4c6" stroke-width="0.5" />
<circle cx="316.20" cy="256.55" r="0.6" fill="#2aaed2" />
<circle cx="317.40" cy="256.55" r="0.6" fill="#2aaed2" />
<circle cx="318.60" cy="256.55" r="0.6" fill="#2aaed2" />
<line x1="323.15" y1="224.80" x2="323.15" y2="239.90" stroke="#f7cf92" stroke-width="1.8" />
<line x1="323.15" y1="224.80" x2="323.15" y2="239.90" stroke="#f2b25e" stroke-width="0.6" />
<line x1="321.95" y1="224.80" x2="324.35" y2="224.80" stroke="#f2b25e" stroke-width="0.6" />
<line x1="321.95" y1="239.90" x2="324.35" y2="239.90" stroke="#f2b25e" stroke-width="0.6" />
<circle cx="323.15" cy="227.82" r="0.65" fill="#eea04a" />
<circle cx="323.15" cy="230.90" r="0.65" fill="#eea04a" />
<circle cx="323.15" cy="237.64" r="0.65" fill="#eea04a" />
<path d="M317.40 253.05 V208.8 H323.40 V221.50" fill="none" stroke="#858585" stroke-width="1.0" />
<circle cx="319.15" cy="205.30" r="0.9" fill="#2a2a2a" />
<circle cx="321.65" cy="205.30" r="0.9" fill="#2a2a2a" />
<line x1="320.20" y1="268.70" x2="320.20" y2="270.70" stroke="#231f20" stroke-width="0.9" />
<text x="324.00" y="280.00" font-size="7.6" text-anchor="end" textLength="19.31" lengthAdjust="spacingAndGlyphs" transform="rotate(-45 324.00 280.00)" >CDC34</text>
<rect x="331.45" y="256.55" width="3.20" height="12.15" fill="#f4fcfe" stroke="#bfeaf6" stroke-width="0.5" />
<rect x="337.05" y="242.50" width="3.50" height="26.20" fill="#fffcf7" stroke="#fde4c6" stroke-width="0.5" />
<circle cx="331.85" cy="256.55" r="0.6" fill="#2aaed2" />
<circle cx="333.05" cy="256.55" r="0.6" fill="#2aaed2" />
<circle cx="334.25" cy="256.55" r="0.6" fill="#2aaed2" />
<line x1="338.80" y1="236.90" x2="338.80" y2="248.20" stroke="#f7cf92" stroke-width="1.8" />
<line x1="338.80" y1="236.90" x2="338.80" y2="248.20" stroke="#f2b25e" stroke-width="0.6" />
<line x1="337.60" y1="236.90" x2="340.00" y2="236.90" stroke="#f2b25e" stroke-width="0.6" />
<line x1="337.60" y1="248.20" x2="340.00" y2="248.20" stroke="#f2b25e" stroke-width="0.6" />
<circle cx="338.80" cy="239.16" r="0.65" fill="#eea04a" />
<circle cx="338.80" cy="242.50" r="0.65" fill="#eea04a" />
<circle cx="338.80" cy="246.50" r="0.65" fill="#eea04a" />
<path d="M333.05 253.05 V208.8 H339.05 V233.60" fill="none" stroke="#858585" stroke-width="1.0" />
<circle cx="334.80" cy="205.30" r="0.9" fill="#2a2a2a" />
<circle cx="337.30" cy="205.30" r="0.9" fill="#2a2a2a" />
<line x1="335.85" y1="268.70" x2="335.85" y2="270.70" stroke="#231f20" stroke-width="0.9" />
<text x="339.65" y="280.00" font-size="7.6" text-anchor="end" textLength="18.03" lengthAdjust="spacingAndGlyphs" transform="rotate(-45 339.65 280.00)" >FBX07</text>
<rect x="347.10" y="256.55" width="3.20" height="12.15" fill="#f4fcfe" stroke="#bfeaf6" stroke-width="0.5" />
<rect x="352.70" y="239.50" width="3.50" height="29.20" fill="#fffcf7" stroke="#fde4c6" stroke-width="0.5" />
<circle cx="347.50" cy="256.55" r="0.6" fill="#2aaed2" />
<circle cx="348.70" cy="256.55" r="0.6" fill="#2aaed2" />
<circle cx="349.90" cy="256.55" r="0.6" fill="#2aaed2" />
<line x1="354.45" y1="231.60" x2="354.45" y2="247.40" stroke="#f7cf92" stroke-width="1.8" />
<line x1="354.45" y1="231.60" x2="354.45" y2="247.40" stroke="#f2b25e" stroke-width="0.6" />
<line x1="353.25" y1="231.60" x2="355.65" y2="231.60" stroke="#f2b25e" stroke-width="0.6" />
<line x1="353.25" y1="247.40" x2="355.65" y2="247.40" stroke="#f2b25e" stroke-width="0.6" />
<circle cx="354.45" cy="234.76" r="0.65" fill="#eea04a" />
<circle cx="354.45" cy="239.50" r="0.65" fill="#eea04a" />
<circle cx="354.45" cy="245.03" r="0.65" fill="#eea04a" />
<path d="M348.70 253.05 V208.8 H354.70 V228.30" fill="none" stroke="#858585" stroke-width="1.0" />
<circle cx="351.70" cy="205.30" r="0.9" fill="#2a2a2a" />
<line x1="351.50" y1="268.70" x2="351.50" y2="270.70" stroke="#231f20" stroke-width="0.9" />
<text x="355.30" y="280.00" font-size="7.6" text-anchor="end" textLength="15.39" lengthAdjust="spacingAndGlyphs" transform="rotate(-45 355.30 280.00)" >RNF8</text>
<rect x="362.75" y="256.55" width="3.20" height="12.15" fill="#f4fcfe" stroke="#bfeaf6" stroke-width="0.5" />
<rect x="368.35" y="249.30" width="3.50" height="19.40" fill="#fffcf7" stroke="#fde4c6" stroke-width="0.5" />
<circle cx="363.15" cy="256.55" r="0.6" fill="#2aaed2" />
<circle cx="364.35" cy="256.55" r="0.6" fill="#2aaed2" />
<circle cx="365.55" cy="256.55" r="0.6" fill="#2aaed2" />
<line x1="370.10" y1="244.40" x2="370.10" y2="254.20" stroke="#f7cf92" stroke-width="1.8" />
<line x1="370.10" y1="244.40" x2="370.10" y2="254.20" stroke="#f2b25e" stroke-width="0.6" />
<line x1="368.90" y1="244.40" x2="371.30" y2="244.40" stroke="#f2b25e" stroke-width="0.6" />
<line x1="368.90" y1="254.20" x2="371.30" y2="254.20" stroke="#f2b25e" stroke-width="0.6" />
<circle cx="370.10" cy="246.36" r="0.65" fill="#eea04a" />
<circle cx="370.10" cy="249.30" r="0.65" fill="#eea04a" />
<circle cx="370.10" cy="252.73" r="0.65" fill="#eea04a" />
<path d="M364.35 253.05 V208.8 H370.35 V241.10" fill="none" stroke="#858585" stroke-width="1.0" />
<circle cx="367.35" cy="205.30" r="0.9" fill="#2a2a2a" />
<line x1="367.15" y1="268.70" x2="367.15" y2="270.70" stroke="#231f20" stroke-width="0.9" />
<text x="370.95" y="280.00" font-size="7.6" text-anchor="end" textLength="19.01" lengthAdjust="spacingAndGlyphs" transform="rotate(-45 370.95 280.00)" >STUB1</text>
<rect x="378.40" y="256.55" width="3.20" height="12.15" fill="#f4fcfe" stroke="#bfeaf6" stroke-width="0.5" />
<rect x="384.00" y="233.50" width="3.50" height="35.20" fill="#fffcf7" stroke="#fde4c6" stroke-width="0.5" />
<circle cx="378.80" cy="256.55" r="0.6" fill="#2aaed2" />
<circle cx="380.00" cy="256.55" r="0.6" fill="#2aaed2" />
<circle cx="381.20" cy="256.55" r="0.6" fill="#2aaed2" />
<line x1="385.75" y1="227.90" x2="385.75" y2="239.50" stroke="#f7cf92" stroke-width="1.8" />
<line x1="385.75" y1="227.90" x2="385.75" y2="239.50" stroke="#f2b25e" stroke-width="0.6" />
<line x1="384.55" y1="227.90" x2="386.95" y2="227.90" stroke="#f2b25e" stroke-width="0.6" />
<line x1="384.55" y1="239.50" x2="386.95" y2="239.50" stroke="#f2b25e" stroke-width="0.6" />
<circle cx="385.75" cy="230.22" r="0.65" fill="#eea04a" />
<circle cx="385.75" cy="233.50" r="0.65" fill="#eea04a" />
<circle cx="385.75" cy="237.76" r="0.65" fill="#eea04a" />
<path d="M380.00 253.05 V208.8 H386.00 V224.60" fill="none" stroke="#858585" stroke-width="1.0" />
<circle cx="381.75" cy="205.30" r="0.9" fill="#2a2a2a" />
<circle cx="384.25" cy="205.30" r="0.9" fill="#2a2a2a" />
<line x1="382.80" y1="268.70" x2="382.80" y2="270.70" stroke="#231f20" stroke-width="0.9" />
<text x="386.60" y="280.00" font-size="7.6" text-anchor="end" textLength="15.78" lengthAdjust="spacingAndGlyphs" transform="rotate(-45 386.60 280.00)" >BAG5</text>
<rect x="394.05" y="256.55" width="3.20" height="12.15" fill="#f4fcfe" stroke="#bfeaf6" stroke-width="0.5" />
<rect x="399.65" y="221.00" width="3.50" height="47.70" fill="#fffcf7" stroke="#fde4c6" stroke-width="0.5" />
<circle cx="394.45" cy="256.55" r="0.6" fill="#2aaed2" />
<circle cx="395.65" cy="256.55" r="0.6" fill="#2aaed2" />
<circle cx="396.85" cy="256.55" r="0.6" fill="#2aaed2" />
<line x1="401.40" y1="215.10" x2="401.40" y2="229.40" stroke="#f7cf92" stroke-width="1.8" />
<line x1="401.40" y1="215.10" x2="401.40" y2="229.40" stroke="#f2b25e" stroke-width="0.6" />
<line x1="400.20" y1="215.10" x2="402.60" y2="215.10" stroke="#f2b25e" stroke-width="0.6" />
<line x1="400.20" y1="229.40" x2="402.60" y2="229.40" stroke="#f2b25e" stroke-width="0.6" />
<circle cx="401.40" cy="217.96" r="0.65" fill="#eea04a" />
<circle cx="401.40" cy="221.00" r="0.65" fill="#eea04a" />
<circle cx="401.40" cy="227.25" r="0.65" fill="#eea04a" />
<path d="M395.65 253.05 V208.8 H401.65 V211.80" fill="none" stroke="#858585" stroke-width="1.0" />
<circle cx="394.90" cy="205.30" r="0.9" fill="#2a2a2a" />
<circle cx="397.40" cy="205.30" r="0.9" fill="#2a2a2a" />
<circle cx="399.90" cy="205.30" r="0.9" fill="#2a2a2a" />
<circle cx="402.40" cy="205.30" r="0.9" fill="#2a2a2a" />
<line x1="398.45" y1="268.70" x2="398.45" y2="270.70" stroke="#231f20" stroke-width="0.9" />
<text x="402.25" y="280.00" font-size="7.6" text-anchor="end" textLength="16.76" lengthAdjust="spacingAndGlyphs" transform="rotate(-45 402.25 280.00)" >CHUK</text>
<rect x="409.70" y="256.55" width="3.20" height="12.15" fill="#f4fcfe" stroke="#bfeaf6" stroke-width="0.5" />
<rect x="415.30" y="245.20" width="3.50" height="23.50" fill="#fffcf7" stroke="#fde4c6" stroke-width="0.5" />
<circle cx="410.10" cy="256.55" r="0.6" fill="#2aaed2" />
<circle cx="411.30" cy="256.55" r="0.6" fill="#2aaed2" />
<circle cx="412.50" cy="256.55" r="0.6" fill="#2aaed2" />
<line x1="417.05" y1="243.70" x2="417.05" y2="246.70" stroke="#f7cf92" stroke-width="1.8" />
<line x1="417.05" y1="243.70" x2="417.05" y2="246.70" stroke="#f2b25e" stroke-width="0.6" />
<line x1="415.85" y1="243.70" x2="418.25" y2="243.70" stroke="#f2b25e" stroke-width="0.6" />
<line x1="415.85" y1="246.70" x2="418.25" y2="246.70" stroke="#f2b25e" stroke-width="0.6" />
<circle cx="417.05" cy="244.30" r="0.65" fill="#eea04a" />
<circle cx="417.05" cy="245.20" r="0.65" fill="#eea04a" />
<circle cx="417.05" cy="246.25" r="0.65" fill="#eea04a" />
<path d="M411.30 253.05 V208.8 H417.30 V240.40" fill="none" stroke="#858585" stroke-width="1.0" />
<circle cx="410.55" cy="205.30" r="0.9" fill="#2a2a2a" />
<circle cx="413.05" cy="205.30" r="0.9" fill="#2a2a2a" />
<circle cx="415.55" cy="205.30" r="0.9" fill="#2a2a2a" />
<circle cx="418.05" cy="205.30" r="0.9" fill="#2a2a2a" />
<line x1="414.10" y1="268.70" x2="414.10" y2="270.70" stroke="#231f20" stroke-width="0.9" />
<text x="417.90" y="280.00" font-size="7.6" text-anchor="end" textLength="16.66" lengthAdjust="spacingAndGlyphs" transform="rotate(-45 417.90 280.00)" >SIRT6</text>
<line x1="281.80" y1="268.70" x2="420.40" y2="268.70" stroke="#1c1c1c" stroke-width="1.3" />
<text x="319.20" y="307.10" font-size="8.5" textLength="66.10" lengthAdjust="spacingAndGlyphs" >MM196 primary cells</text>
<circle cx="315.10" cy="318.50" r="2.2" fill="#1fb5d6" />
<text x="320.80" y="320.80" font-size="7" textLength="23.00" lengthAdjust="spacingAndGlyphs" >MM196</text>
<circle cx="352.50" cy="318.50" r="2.2" fill="#f3a53e" />
<text x="358.70" y="320.80" font-size="7" textLength="32.90" lengthAdjust="spacingAndGlyphs" >MM196-RS</text>
<rect x="460.10" y="214.40" width="20.50" height="8.20" fill="#e6e6e6" stroke="#2e2e2e" stroke-width="0.9" />
<path d="M461.30 217.90 L469.50 218.00 L469.50 219.80 L461.30 219.70 Z" fill="#555" stroke="none" stroke-width="1" filter="url(#b5)"/>
<path d="M471.30 217.80 L479.50 217.20 L479.50 219.60 L471.30 220.20 Z" fill="#111" stroke="none" stroke-width="1" filter="url(#b5)"/>
<rect x="460.10" y="224.40" width="20.50" height="7.50" fill="#e6e6e6" stroke="#2e2e2e" stroke-width="0.9" />
<path d="M461.50 227.80 L469.50 227.80 L469.50 229.40 L461.50 229.40 Z" fill="#cfcfcf" stroke="none" stroke-width="1" filter="url(#b5)"/>
<path d="M471.50 227.80 L479.30 227.50 L479.30 229.50 L471.50 229.80 Z" fill="#2a2a2a" stroke="none" stroke-width="1" filter="url(#b5)"/>
<rect x="460.10" y="233.60" width="20.50" height="7.50" fill="#e6e6e6" stroke="#2e2e2e" stroke-width="0.9" />
<path d="M461.50 236.60 L469.50 236.60 L469.50 238.20 L461.50 238.20 Z" fill="#8a8a8a" stroke="none" stroke-width="1" filter="url(#b5)"/>
<path d="M471.50 236.50 L479.30 235.90 L479.30 238.10 L471.50 238.70 Z" fill="#1a1a1a" stroke="none" stroke-width="1" filter="url(#b5)"/>
<rect x="460.10" y="242.40" width="20.50" height="7.80" fill="#e6e6e6" stroke="#2e2e2e" stroke-width="0.9" />
<path d="M461.50 245.80 L469.50 245.60 L469.50 247.20 L461.50 247.40 Z" fill="#6a6a6a" stroke="none" stroke-width="1" filter="url(#b5)"/>
<path d="M471.30 245.30 L479.50 244.90 L479.50 247.50 L471.30 247.90 Z" fill="#0d0d0d" stroke="none" stroke-width="1" filter="url(#b5)"/>
<rect x="460.10" y="251.50" width="20.50" height="8.10" fill="#e6e6e6" stroke="#2e2e2e" stroke-width="0.9" />
<path d="M461.50 254.90 L469.50 254.90 L469.50 256.30 L461.50 256.30 Z" fill="#d4d4d4" stroke="none" stroke-width="1" filter="url(#b5)"/>
<path d="M472.50 255.00 L479.30 253.40 L479.30 255.20 L472.50 256.80 Z" fill="#3a3a3a" stroke="none" stroke-width="1" filter="url(#b5)"/>
<rect x="460.10" y="260.80" width="20.50" height="7.60" fill="#e6e6e6" stroke="#2e2e2e" stroke-width="0.9" />
<path d="M461.30 264.25 L469.30 263.85 L469.30 265.75 L461.30 266.15 Z" fill="#0d0d0d" stroke="none" stroke-width="1" filter="url(#b5)"/>
<path d="M471.30 264.15 L479.50 263.45 L479.50 265.35 L471.30 266.05 Z" fill="#0d0d0d" stroke="none" stroke-width="1" filter="url(#b5)"/>
<text x="454.90" y="222.10" font-size="7.2" text-anchor="end" textLength="16.30" lengthAdjust="spacingAndGlyphs" >NRF1</text>
<text x="454.90" y="230.70" font-size="7.2" text-anchor="end" textLength="16.30" lengthAdjust="spacingAndGlyphs" >UBA1</text>
<text x="454.90" y="238.80" font-size="7.2" text-anchor="end" textLength="19.50" lengthAdjust="spacingAndGlyphs" >CDC34</text>
<text x="454.90" y="247.90" font-size="7.2" text-anchor="end" textLength="18.20" lengthAdjust="spacingAndGlyphs" >FBX07</text>
<text x="454.90" y="256.70" font-size="7.2" text-anchor="end" textLength="15.70" lengthAdjust="spacingAndGlyphs" >RNF8</text>
<text x="454.90" y="265.50" font-size="7.2" text-anchor="end" textLength="19.00" lengthAdjust="spacingAndGlyphs" >β-actin</text>
<text x="465.20" y="211.20" font-size="7" textLength="24.00" lengthAdjust="spacingAndGlyphs" transform="rotate(-43 465.20 211.20)" >MM196</text>
<text x="475.80" y="211.60" font-size="7" textLength="35.50" lengthAdjust="spacingAndGlyphs" transform="rotate(-43 475.80 211.60)" >MM196-RS</text>
<text x="471.00" y="276.00" font-size="7.8" text-anchor="middle" textLength="22.00" lengthAdjust="spacingAndGlyphs" >MM196</text>
<text x="470.60" y="284.80" font-size="7.5" text-anchor="middle" textLength="37.30" lengthAdjust="spacingAndGlyphs" >primary cells</text>
<text x="7.00" y="345.20" font-size="11" fill="#111" font-weight="bold" stroke="#111" stroke-width="0.55">E</text>
<line x1="38.30" y1="401.60" x2="40.50" y2="401.60" stroke="#231f20" stroke-width="0.9" />
<text x="37.00" y="403.70" font-size="6.0" text-anchor="end" fill="#333" textLength="20.6" lengthAdjust="spacingAndGlyphs"><tspan>1×10</tspan><tspan font-size="3.72" dy="-2.8">6</tspan></text>
<line x1="38.30" y1="378.00" x2="40.50" y2="378.00" stroke="#231f20" stroke-width="0.9" />
<text x="37.00" y="380.10" font-size="6.0" text-anchor="end" fill="#333" textLength="20.6" lengthAdjust="spacingAndGlyphs"><tspan>2×10</tspan><tspan font-size="3.72" dy="-2.8">6</tspan></text>
<line x1="38.30" y1="354.40" x2="40.50" y2="354.40" stroke="#231f20" stroke-width="0.9" />
<text x="37.00" y="356.50" font-size="6.0" text-anchor="end" fill="#333" textLength="20.6" lengthAdjust="spacingAndGlyphs"><tspan>3×10</tspan><tspan font-size="3.72" dy="-2.8">6</tspan></text>
<line x1="38.30" y1="425.20" x2="40.50" y2="425.20" stroke="#231f20" stroke-width="0.9" />
<text x="34.30" y="427.50" font-size="6.5" text-anchor="end" fill="#333" >0</text>
<text x="14.40" y="386.40" font-size="8.3" text-anchor="middle" textLength="23.60" lengthAdjust="spacingAndGlyphs" transform="rotate(-90 14.40 386.40)" >N° cells</text>
<path d="M40.50 401.40 L71.00 406.60 L101.50 419.80 L132.00 423.70" fill="none" stroke="#35c0e3" stroke-width="1.0" stroke-linejoin="round"/>
<path d="M40.50 401.40 L71.00 406.60 L101.50 408.10 L132.00 415.80" fill="none" stroke="#8a5c91" stroke-width="1.0" stroke-linejoin="round"/>
<path d="M40.50 401.40 L71.00 406.60" fill="none" stroke="#3c3f6a" stroke-width="1.0" stroke-linejoin="round"/>
<path d="M40.50 401.40 L71.00 397.20 L101.50 385.70 L132.00 367.10" fill="none" stroke="#2db87a" stroke-width="1.0" stroke-linejoin="round"/>
<line x1="71.00" y1="393.90" x2="71.00" y2="397.20" stroke="#2db87a" stroke-width="0.8" />
<line x1="69.90" y1="393.90" x2="72.10" y2="393.90" stroke="#2db87a" stroke-width="0.8" />
<line x1="101.50" y1="382.70" x2="101.50" y2="385.70" stroke="#2db87a" stroke-width="0.8" />
<line x1="100.40" y1="382.70" x2="102.60" y2="382.70" stroke="#2db87a" stroke-width="0.8" />
<line x1="132.00" y1="358.20" x2="132.00" y2="367.10" stroke="#2db87a" stroke-width="0.8" />
<line x1="130.90" y1="358.20" x2="133.10" y2="358.20" stroke="#2db87a" stroke-width="0.8" />
<circle cx="40.50" cy="401.40" r="1.0" fill="#2db87a" />
<circle cx="71.00" cy="397.20" r="1.0" fill="#2db87a" />
<circle cx="101.50" cy="385.70" r="1.0" fill="#2db87a" />
<circle cx="132.00" cy="367.10" r="1.0" fill="#2db87a" />
<circle cx="40.50" cy="401.40" r="1.0" fill="#6a3a72" />
<circle cx="71.00" cy="406.60" r="1.0" fill="#6a3a72" />
<circle cx="101.50" cy="408.10" r="1.0" fill="#6a3a72" />
<circle cx="132.00" cy="415.80" r="1.0" fill="#6a3a72" />
<circle cx="71.00" cy="406.60" r="1.0" fill="#2ab0d8" />
<circle cx="101.50" cy="419.80" r="1.0" fill="#2ab0d8" />
<circle cx="132.00" cy="423.70" r="1.0" fill="#2ab0d8" />
<line x1="71.00" y1="397.50" x2="71.00" y2="406.60" stroke="#3c3f6a" stroke-width="0.8" stroke-dasharray="1 0.9"/>
<circle cx="97.90" cy="404.40" r="0.95" fill="#2a2a2a" />
<circle cx="100.50" cy="404.40" r="0.95" fill="#2a2a2a" />
<circle cx="103.10" cy="404.40" r="0.95" fill="#2a2a2a" />
<circle cx="105.70" cy="404.40" r="0.95" fill="#2a2a2a" />
<circle cx="97.90" cy="415.60" r="0.95" fill="#2a2a2a" />
<circle cx="100.50" cy="415.60" r="0.95" fill="#2a2a2a" />
<circle cx="103.10" cy="415.60" r="0.95" fill="#2a2a2a" />
<circle cx="105.70" cy="415.60" r="0.95" fill="#2a2a2a" />
<circle cx="128.50" cy="412.80" r="0.95" fill="#2a2a2a" />
<circle cx="131.10" cy="412.80" r="0.95" fill="#2a2a2a" />
<circle cx="133.70" cy="412.80" r="0.95" fill="#2a2a2a" />
<circle cx="136.30" cy="412.80" r="0.95" fill="#2a2a2a" />
<circle cx="128.50" cy="420.30" r="0.95" fill="#2a2a2a" />
<circle cx="131.10" cy="420.30" r="0.95" fill="#2a2a2a" />
<circle cx="133.70" cy="420.30" r="0.95" fill="#2a2a2a" />
<circle cx="136.30" cy="420.30" r="0.95" fill="#2a2a2a" />
<text x="70.90" y="414.30" font-size="6.5" text-anchor="middle" textLength="10.00" lengthAdjust="spacingAndGlyphs" >n.s.</text>
<line x1="40.50" y1="352.60" x2="40.50" y2="425.70" stroke="#1c1c1c" stroke-width="1.3" />
<line x1="40.50" y1="425.20" x2="137.20" y2="425.20" stroke="#1c1c1c" stroke-width="1.3" />
<line x1="40.50" y1="425.20" x2="40.50" y2="427.40" stroke="#231f20" stroke-width="0.9" />
<text x="41.00" y="437.50" font-size="6.8" text-anchor="middle" font-style="italic" textLength="16.10" lengthAdjust="spacingAndGlyphs" >day 0</text>
<line x1="71.00" y1="425.20" x2="71.00" y2="427.40" stroke="#231f20" stroke-width="0.9" />
<text x="71.50" y="437.50" font-size="6.8" text-anchor="middle" font-style="italic" textLength="16.10" lengthAdjust="spacingAndGlyphs" >day 1</text>
<line x1="101.50" y1="425.20" x2="101.50" y2="427.40" stroke="#231f20" stroke-width="0.9" />
<text x="102.00" y="437.50" font-size="6.8" text-anchor="middle" font-style="italic" textLength="16.10" lengthAdjust="spacingAndGlyphs" >day 2</text>
<line x1="132.00" y1="425.20" x2="132.00" y2="427.40" stroke="#231f20" stroke-width="0.9" />
<text x="132.50" y="437.50" font-size="6.8" text-anchor="middle" font-style="italic" textLength="16.10" lengthAdjust="spacingAndGlyphs" >day 3</text>
<text x="71.00" y="449.90" font-size="8.5" textLength="37.00" lengthAdjust="spacingAndGlyphs" >Kms18 cells</text>
<line x1="38.00" y1="458.40" x2="47.20" y2="458.40" stroke="#1fb46e" stroke-width="1.2" />
<circle cx="42.60" cy="458.40" r="2.1" fill="#1fb46e" />
<text x="51.50" y="460.80" font-size="7" textLength="27.20" lengthAdjust="spacingAndGlyphs" >siControl</text>
<line x1="83.20" y1="458.40" x2="92.00" y2="458.40" stroke="#6a3a72" stroke-width="1.2" />
<circle cx="87.60" cy="458.40" r="2.1" fill="#6a3a72" />
<text x="96.30" y="460.80" font-size="7" textLength="45.70" lengthAdjust="spacingAndGlyphs" >siControl +BTZ</text>
<line x1="38.00" y1="468.70" x2="47.20" y2="468.70" stroke="#2ab8de" stroke-width="1.2" />
<circle cx="42.60" cy="468.70" r="2.1" fill="#2ab8de" />
<text x="51.50" y="471.10" font-size="7" textLength="40.70" lengthAdjust="spacingAndGlyphs" >SiNRF1 +BTZ</text>
<text x="148.50" y="345.20" font-size="11" fill="#111" font-weight="bold" stroke="#111" stroke-width="0.55">F</text>
<line x1="171.80" y1="425.10" x2="174.00" y2="425.10" stroke="#231f20" stroke-width="0.9" />
<text x="167.80" y="427.50" font-size="7" text-anchor="end" fill="#333" textLength="3.60" lengthAdjust="spacingAndGlyphs" >0</text>
<line x1="171.80" y1="405.50" x2="174.00" y2="405.50" stroke="#231f20" stroke-width="0.9" />
<text x="167.80" y="407.90" font-size="7" text-anchor="end" fill="#333" textLength="7.40" lengthAdjust="spacingAndGlyphs" >50</text>
<line x1="171.80" y1="385.90" x2="174.00" y2="385.90" stroke="#231f20" stroke-width="0.9" />
<text x="167.80" y="388.30" font-size="7" text-anchor="end" fill="#333" textLength="11.60" lengthAdjust="spacingAndGlyphs" >100</text>
<line x1="171.80" y1="366.30" x2="174.00" y2="366.30" stroke="#231f20" stroke-width="0.9" />
<text x="167.80" y="368.70" font-size="7" text-anchor="end" fill="#333" textLength="11.60" lengthAdjust="spacingAndGlyphs" >150</text>
<text x="151.60" y="394.20" font-size="8.6" text-anchor="middle" textLength="48.60" lengthAdjust="spacingAndGlyphs" transform="rotate(-90 151.60 394.20)" >% of viable cells</text>
<text x="177.30" y="373.90" font-size="6.5" textLength="21.30" lengthAdjust="spacingAndGlyphs" >P &lt; .05</text>
<line x1="174.00" y1="405.50" x2="184.38" y2="405.50" stroke="#a0507a" stroke-width="0.6" stroke-dasharray="0.9 0.9"/>
<line x1="184.38" y1="405.50" x2="184.38" y2="425.10" stroke="#a0507a" stroke-width="0.6" stroke-dasharray="0.9 0.9"/>
<line x1="194.75" y1="405.50" x2="194.75" y2="425.10" stroke="#2db87a" stroke-width="0.6" stroke-dasharray="0.9 0.9"/>
<path d="M174.00 387.08 C174.69 388.71 176.42 393.87 178.15 396.88 C179.88 399.88 181.61 402.76 184.38 405.11 C187.14 407.46 189.56 408.83 194.75 410.99 C199.94 413.14 208.58 415.95 215.50 418.04 C222.42 420.13 232.79 422.62 236.25 423.53" fill="none" stroke="#8c3a78" stroke-width="0.9" />
<path d="M174.00 385.90 C174.69 386.88 176.42 389.56 178.15 391.78 C179.88 394.00 181.61 396.88 184.38 399.23 C187.14 401.58 189.56 402.89 194.75 405.89 C199.94 408.90 208.58 414.39 215.50 417.26 C222.42 420.13 232.79 422.16 236.25 423.14" fill="none" stroke="#2db87a" stroke-width="1.1" />
<rect x="172.90" y="385.98" width="2.20" height="2.20" fill="#6a2f66" stroke="none" stroke-width="1" />
<rect x="177.05" y="395.78" width="2.20" height="2.20" fill="#6a2f66" stroke="none" stroke-width="1" />
<rect x="183.28" y="404.01" width="2.20" height="2.20" fill="#6a2f66" stroke="none" stroke-width="1" />
<rect x="193.65" y="409.89" width="2.20" height="2.20" fill="#6a2f66" stroke="none" stroke-width="1" />
<rect x="214.40" y="416.94" width="2.20" height="2.20" fill="#6a2f66" stroke="none" stroke-width="1" />
<rect x="235.15" y="422.43" width="2.20" height="2.20" fill="#6a2f66" stroke="none" stroke-width="1" />
<circle cx="174.00" cy="385.90" r="1.35" fill="#2db87a" />
<circle cx="178.15" cy="391.78" r="1.35" fill="#2db87a" />
<line x1="178.15" y1="389.38" x2="178.15" y2="394.18" stroke="#2db87a" stroke-width="0.6" />
<line x1="177.15" y1="389.38" x2="179.15" y2="389.38" stroke="#2db87a" stroke-width="0.6" />
<line x1="177.15" y1="394.18" x2="179.15" y2="394.18" stroke="#2db87a" stroke-width="0.6" />
<circle cx="184.38" cy="399.23" r="1.35" fill="#2db87a" />
<line x1="184.38" y1="396.83" x2="184.38" y2="401.63" stroke="#2db87a" stroke-width="0.6" />
<line x1="183.38" y1="396.83" x2="185.38" y2="396.83" stroke="#2db87a" stroke-width="0.6" />
<line x1="183.38" y1="401.63" x2="185.38" y2="401.63" stroke="#2db87a" stroke-width="0.6" />
<circle cx="194.75" cy="405.89" r="1.35" fill="#2db87a" />
<line x1="194.75" y1="403.49" x2="194.75" y2="408.29" stroke="#2db87a" stroke-width="0.6" />
<line x1="193.75" y1="403.49" x2="195.75" y2="403.49" stroke="#2db87a" stroke-width="0.6" />
<line x1="193.75" y1="408.29" x2="195.75" y2="408.29" stroke="#2db87a" stroke-width="0.6" />
<circle cx="215.50" cy="417.26" r="1.35" fill="#2db87a" />
<circle cx="236.25" cy="423.14" r="1.35" fill="#2db87a" />
<line x1="174.30" y1="364.30" x2="174.30" y2="425.70" stroke="#1c1c1c" stroke-width="1.3" />
<line x1="173.70" y1="425.10" x2="258.50" y2="425.10" stroke="#1c1c1c" stroke-width="1.3" />
<line x1="174.00" y1="425.10" x2="174.00" y2="427.30" stroke="#231f20" stroke-width="0.9" />
<text x="174.00" y="436.70" font-size="7" text-anchor="middle" fill="#333" >0</text>
<line x1="194.75" y1="425.10" x2="194.75" y2="427.30" stroke="#231f20" stroke-width="0.9" />
<text x="194.75" y="436.70" font-size="7" text-anchor="middle" fill="#333" >5</text>
<line x1="215.50" y1="425.10" x2="215.50" y2="427.30" stroke="#231f20" stroke-width="0.9" />
<text x="215.50" y="436.70" font-size="7" text-anchor="middle" fill="#333" >10</text>
<line x1="236.25" y1="425.10" x2="236.25" y2="427.30" stroke="#231f20" stroke-width="0.9" />
<text x="236.25" y="436.70" font-size="7" text-anchor="middle" fill="#333" >15</text>
<line x1="257.00" y1="425.10" x2="257.00" y2="427.30" stroke="#231f20" stroke-width="0.9" />
<text x="257.00" y="436.70" font-size="7" text-anchor="middle" fill="#333" >20</text>
<text x="192.70" y="449.70" font-size="8.8" textLength="48.50" lengthAdjust="spacingAndGlyphs" >Bortezomib nM</text>
<text x="198.50" y="460.30" font-size="8.8" textLength="37.00" lengthAdjust="spacingAndGlyphs" >Kms18 cells</text>
<line x1="177.70" y1="469.00" x2="187.30" y2="469.00" stroke="#1fb46e" stroke-width="1.2" />
<circle cx="182.50" cy="469.00" r="2.1" fill="#1fb46e" />
<text x="190.40" y="471.30" font-size="6.8" textLength="27.70" lengthAdjust="spacingAndGlyphs" >siControl</text>
<line x1="222.70" y1="469.00" x2="232.00" y2="469.00" stroke="#7a3580" stroke-width="1.2" />
<rect x="225.45" y="467.10" width="3.80" height="3.80" fill="#7a3580" stroke="none" stroke-width="1" />
<text x="235.90" y="471.30" font-size="6.8" textLength="21.50" lengthAdjust="spacingAndGlyphs" >siNRF1</text>
<text x="287.60" y="367.10" font-size="8" textLength="46.90" lengthAdjust="spacingAndGlyphs" >Kms18 cells</text>
<line x1="295.00" y1="425.00" x2="297.20" y2="425.00" stroke="#231f20" stroke-width="0.9" />
<text x="293.40" y="427.30" font-size="6.5" text-anchor="end" fill="#333" >0</text>
<line x1="295.00" y1="409.14" x2="297.20" y2="409.14" stroke="#231f20" stroke-width="0.9" />
<text x="293.40" y="411.44" font-size="6.5" text-anchor="end" fill="#333" >2</text>
<line x1="295.00" y1="393.28" x2="297.20" y2="393.28" stroke="#231f20" stroke-width="0.9" />
<text x="293.40" y="395.58" font-size="6.5" text-anchor="end" fill="#333" >4</text>
<line x1="295.00" y1="377.42" x2="297.20" y2="377.42" stroke="#231f20" stroke-width="0.9" />
<text x="293.40" y="379.72" font-size="6.5" text-anchor="end" fill="#333" >6</text>
<text x="272.30" y="400.60" font-size="7.3" text-anchor="middle" textLength="14.20" lengthAdjust="spacingAndGlyphs" transform="rotate(-90 272.30 400.60)" >IC50</text>
<text x="281.60" y="400.60" font-size="7.3" text-anchor="middle" textLength="54.40" lengthAdjust="spacingAndGlyphs" transform="rotate(-90 281.60 400.60)" >(Bortezomib nM)</text>
<rect x="301.80" y="386.00" width="8.40" height="39.00" fill="#8fe2b8" stroke="none" stroke-width="1" />
<rect x="315.20" y="403.20" width="9.20" height="21.80" fill="#c3a0c7" stroke="none" stroke-width="1" />
<line x1="306.00" y1="383.60" x2="306.00" y2="388.60" stroke="#2aa868" stroke-width="0.7" />
<line x1="304.70" y1="383.60" x2="307.30" y2="383.60" stroke="#2aa868" stroke-width="0.7" />
<line x1="304.70" y1="388.60" x2="307.30" y2="388.60" stroke="#2aa868" stroke-width="0.7" />
<circle cx="306.00" cy="384.50" r="0.8" fill="#2aa868" />
<circle cx="306.00" cy="386.50" r="0.8" fill="#2aa868" />
<circle cx="306.00" cy="387.60" r="0.8" fill="#2aa868" />
<line x1="319.80" y1="400.00" x2="319.80" y2="405.50" stroke="#8a4a8a" stroke-width="0.7" />
<line x1="318.50" y1="400.00" x2="321.10" y2="400.00" stroke="#8a4a8a" stroke-width="0.7" />
<line x1="318.50" y1="405.50" x2="321.10" y2="405.50" stroke="#8a4a8a" stroke-width="0.7" />
<circle cx="319.80" cy="400.80" r="0.8" fill="#8a4a8a" />
<circle cx="319.80" cy="403.20" r="0.8" fill="#8a4a8a" />
<circle cx="319.80" cy="404.80" r="0.8" fill="#8a4a8a" />
<path d="M306 381.2 V377.1 H319 V397.2" fill="none" stroke="#858585" stroke-width="1.0" />
<circle cx="309.90" cy="374.30" r="0.95" fill="#2a2a2a" />
<circle cx="312.50" cy="374.30" r="0.95" fill="#2a2a2a" />
<circle cx="315.10" cy="374.30" r="0.95" fill="#2a2a2a" />
<line x1="297.20" y1="374.50" x2="297.20" y2="425.50" stroke="#1c1c1c" stroke-width="1.3" />
<line x1="294.30" y1="425.00" x2="327.60" y2="425.00" stroke="#1c1c1c" stroke-width="1.3" />
<line x1="305.80" y1="425.00" x2="305.80" y2="427.00" stroke="#231f20" stroke-width="0.9" />
<line x1="319.10" y1="425.00" x2="319.10" y2="427.00" stroke="#231f20" stroke-width="0.9" />
<text x="310.00" y="434.30" font-size="7" text-anchor="end" textLength="27.50" lengthAdjust="spacingAndGlyphs" transform="rotate(-46 310.00 434.30)" >siControl</text>
<text x="323.60" y="435.30" font-size="7" text-anchor="end" textLength="21.00" lengthAdjust="spacingAndGlyphs" transform="rotate(-46 323.60 435.30)" >siNRF1</text>
<rect x="363.20" y="383.40" width="27.70" height="10.20" fill="#e6e6e6" stroke="#2e2e2e" stroke-width="1.1" />
<path d="M364.80 386.90 L376.00 386.90 L376.00 390.10 L364.80 390.10 Z" fill="#141414" stroke="none" stroke-width="1" filter="url(#b6)"/>
<path d="M378.30 387.40 L389.50 386.70 L389.50 389.30 L378.30 390.00 Z" fill="#707070" stroke="none" stroke-width="1" filter="url(#b6)"/>
<rect x="363.20" y="394.30" width="27.70" height="10.40" fill="#e6e6e6" stroke="#2e2e2e" stroke-width="1.1" />
<path d="M364.80 398.30 L376.00 398.30 L376.00 400.90 L364.80 400.90 Z" fill="#111" stroke="none" stroke-width="1" filter="url(#b6)"/>
<path d="M378.30 398.50 L389.50 397.50 L389.50 400.10 L378.30 401.10 Z" fill="#111" stroke="none" stroke-width="1" filter="url(#b6)"/>
<text x="359.60" y="390.90" font-size="7.5" text-anchor="end" textLength="17.80" lengthAdjust="spacingAndGlyphs" >NRF1</text>
<text x="359.20" y="401.80" font-size="7.5" text-anchor="end" textLength="20.50" lengthAdjust="spacingAndGlyphs" >β-actin</text>
<text x="370.60" y="380.20" font-size="7.2" textLength="28.20" lengthAdjust="spacingAndGlyphs" transform="rotate(-50 370.60 380.20)" >siControl</text>
<text x="383.00" y="381.40" font-size="7.2" textLength="22.00" lengthAdjust="spacingAndGlyphs" transform="rotate(-50 383.00 381.40)" >siNRF1</text>
<text x="357.40" y="412.50" font-size="7.6" textLength="35.20" lengthAdjust="spacingAndGlyphs" >Kms18 cells</text>
<text x="401.80" y="345.20" font-size="11" fill="#111" font-weight="bold" stroke="#111" stroke-width="0.55">G</text>
<line x1="441.80" y1="352.30" x2="444.00" y2="352.30" stroke="#231f20" stroke-width="0.9" />
<text x="439.60" y="354.60" font-size="6.6" text-anchor="end" fill="#333" textLength="26.6" lengthAdjust="spacingAndGlyphs"><tspan>2.0×10</tspan><tspan font-size="4.09" dy="-2.8">5</tspan></text>
<line x1="441.80" y1="370.30" x2="444.00" y2="370.30" stroke="#231f20" stroke-width="0.9" />
<text x="439.60" y="372.60" font-size="6.6" text-anchor="end" fill="#333" textLength="26.6" lengthAdjust="spacingAndGlyphs"><tspan>1.5×10</tspan><tspan font-size="4.09" dy="-2.8">5</tspan></text>
<line x1="441.80" y1="388.30" x2="444.00" y2="388.30" stroke="#231f20" stroke-width="0.9" />
<text x="439.60" y="390.60" font-size="6.6" text-anchor="end" fill="#333" textLength="26.6" lengthAdjust="spacingAndGlyphs"><tspan>1.0×10</tspan><tspan font-size="4.09" dy="-2.8">5</tspan></text>
<line x1="441.80" y1="406.30" x2="444.00" y2="406.30" stroke="#231f20" stroke-width="0.9" />
<text x="439.60" y="408.60" font-size="6.6" text-anchor="end" fill="#333" textLength="26.6" lengthAdjust="spacingAndGlyphs"><tspan>5.0×10</tspan><tspan font-size="4.09" dy="-2.8">4</tspan></text>
<line x1="441.80" y1="424.30" x2="444.00" y2="424.30" stroke="#231f20" stroke-width="0.9" />
<text x="437.80" y="426.60" font-size="6.8" text-anchor="end" fill="#333" textLength="9.40" lengthAdjust="spacingAndGlyphs" >0.0</text>
<text x="408.60" y="381.40" font-size="8.0" text-anchor="middle" textLength="22.80" lengthAdjust="spacingAndGlyphs" transform="rotate(-90 408.60 381.40)" >N° cells</text>
<rect x="448.90" y="373.80" width="7.00" height="50.50" fill="#8fe2b8" stroke="none" stroke-width="1" />
<line x1="452.40" y1="369.20" x2="452.40" y2="378.60" stroke="#2aa868" stroke-width="0.8" />
<line x1="450.90" y1="369.20" x2="453.90" y2="369.20" stroke="#2aa868" stroke-width="0.8" />
<line x1="450.90" y1="378.60" x2="453.90" y2="378.60" stroke="#2aa868" stroke-width="0.8" />
<circle cx="452.40" cy="370.00" r="0.9" fill="#2aa868" />
<circle cx="452.40" cy="373.80" r="0.9" fill="#2aa868" />
<circle cx="452.40" cy="377.80" r="0.9" fill="#2aa868" />
<rect x="460.90" y="388.70" width="6.90" height="35.60" fill="#c49ac6" stroke="none" stroke-width="1" />
<line x1="464.35" y1="386.50" x2="464.35" y2="389.50" stroke="#6a3a72" stroke-width="0.8" />
<line x1="462.85" y1="386.50" x2="465.85" y2="386.50" stroke="#6a3a72" stroke-width="0.8" />
<line x1="462.85" y1="389.50" x2="465.85" y2="389.50" stroke="#6a3a72" stroke-width="0.8" />
<circle cx="464.35" cy="387.30" r="0.9" fill="#6a3a72" />
<circle cx="464.35" cy="388.70" r="0.9" fill="#6a3a72" />
<circle cx="464.35" cy="388.70" r="0.9" fill="#6a3a72" />
<rect x="473.40" y="373.80" width="7.40" height="50.50" fill="#5ccdee" stroke="none" stroke-width="1" />
<line x1="477.10" y1="358.90" x2="477.10" y2="384.70" stroke="#2aa8d0" stroke-width="0.8" />
<line x1="475.60" y1="358.90" x2="478.60" y2="358.90" stroke="#2aa8d0" stroke-width="0.8" />
<line x1="475.60" y1="384.70" x2="478.60" y2="384.70" stroke="#2aa8d0" stroke-width="0.8" />
<circle cx="477.10" cy="359.70" r="0.9" fill="#2aa8d0" />
<circle cx="477.10" cy="373.80" r="0.9" fill="#2aa8d0" />
<circle cx="477.10" cy="383.90" r="0.9" fill="#2aa8d0" />
<rect x="485.70" y="408.60" width="7.60" height="15.70" fill="#f8c27a" stroke="none" stroke-width="1" />
<line x1="489.50" y1="402.60" x2="489.50" y2="414.50" stroke="#f0a040" stroke-width="0.8" />
<line x1="488.00" y1="402.60" x2="491.00" y2="402.60" stroke="#f0a040" stroke-width="0.8" />
<line x1="488.00" y1="414.50" x2="491.00" y2="414.50" stroke="#f0a040" stroke-width="0.8" />
<circle cx="489.50" cy="403.40" r="0.9" fill="#f0a040" />
<circle cx="489.50" cy="408.60" r="0.9" fill="#f0a040" />
<circle cx="489.50" cy="413.70" r="0.9" fill="#f0a040" />
<path d="M452.4 363 V353.5 H464 V378" fill="none" stroke="#858585" stroke-width="1.0" />
<path d="M465.3 350.9 V343.7 H489.4 V350.9" fill="none" stroke="#858585" stroke-width="1.0" />
<path d="M478.3 356.7 V353.5 H489.4 V394" fill="none" stroke="#858585" stroke-width="1.0" />
<circle cx="457.10" cy="351.00" r="0.95" fill="#2a2a2a" />
<circle cx="459.70" cy="351.00" r="0.95" fill="#2a2a2a" />
<circle cx="473.55" cy="340.60" r="0.95" fill="#2a2a2a" />
<circle cx="476.25" cy="340.60" r="0.95" fill="#2a2a2a" />
<circle cx="478.95" cy="340.60" r="0.95" fill="#2a2a2a" />
<circle cx="481.65" cy="340.60" r="0.95" fill="#2a2a2a" />
<circle cx="484.20" cy="350.70" r="0.95" fill="#2a2a2a" />
<line x1="444.00" y1="349.50" x2="444.00" y2="424.80" stroke="#1c1c1c" stroke-width="1.3" />
<line x1="443.50" y1="424.30" x2="498.60" y2="424.30" stroke="#1c1c1c" stroke-width="1.3" />
<line x1="470.80" y1="424.30" x2="470.80" y2="426.50" stroke="#231f20" stroke-width="0.9" />
<text x="470.50" y="437.20" font-size="7" text-anchor="middle" textLength="23.10" lengthAdjust="spacingAndGlyphs" >MM196</text>
<text x="470.80" y="445.80" font-size="7" text-anchor="middle" textLength="37.60" lengthAdjust="spacingAndGlyphs" >primary cells</text>
<circle cx="428.20" cy="454.60" r="2.2" fill="#1fb46e" />
<text x="433.50" y="456.90" font-size="7.3" textLength="27.70" lengthAdjust="spacingAndGlyphs" >siControl</text>
<circle cx="479.70" cy="454.60" r="2.2" fill="#6a3a72" />
<text x="485.00" y="456.90" font-size="7.3" textLength="18.50" lengthAdjust="spacingAndGlyphs" >siNRF1</text>
<circle cx="428.20" cy="464.50" r="2.2" fill="#2ab8de" />
<text x="433.50" y="466.80" font-size="7.3" textLength="36.90" lengthAdjust="spacingAndGlyphs" >RS siControl</text>
<circle cx="479.70" cy="464.50" r="2.2" fill="#f3a53e" />
<text x="485.00" y="466.80" font-size="7.3" textLength="30.00" lengthAdjust="spacingAndGlyphs" >RS siNRF1</text>
</svg>
</body></html>
